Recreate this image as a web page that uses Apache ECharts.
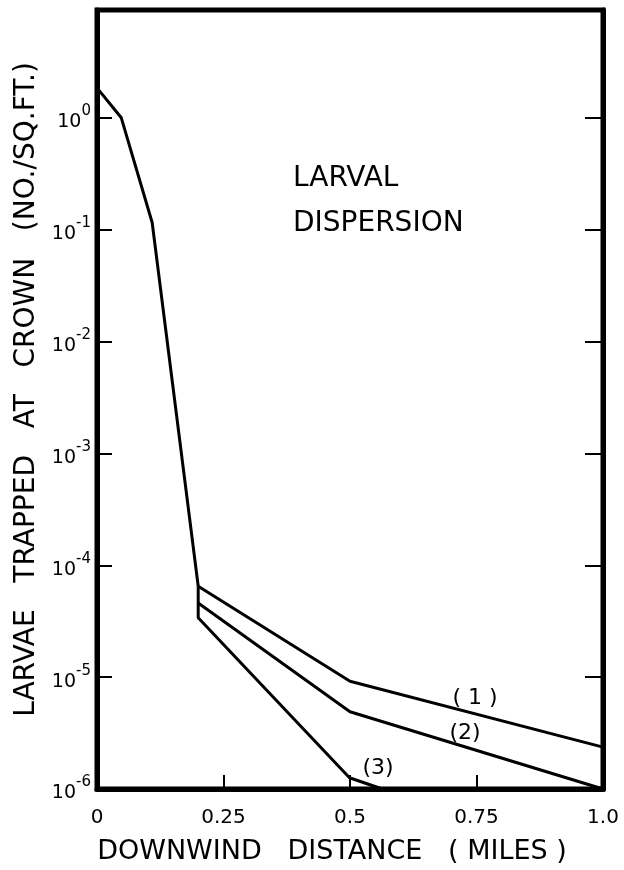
<!DOCTYPE html>
<html>
<head>
<meta charset="utf-8">
<script src="https://cdn.jsdelivr.net/npm/echarts@6/dist/echarts.min.js"></script>
<style>
  html, body { margin: 0; padding: 0; background: #fff; }
  #chart { width: 624px; height: 870px; }
</style>
</head>
<body>
<div id="chart"></div>
<script>
// values (x in miles, y in larvae / sq.ft.)
var mainX = [0, 0.048, 0.109, 0.2];
var mainY = [1.85, 1.0, 0.116, 6.5e-5];

var curve1X = [0.2, 0.5, 1.0];
var curve1Y = [6.5e-5, 9.2e-6, 2.37e-6];

var curve2X = [0.2, 0.5, 1.0];
var curve2Y = [4.6e-5, 4.9e-6, 1.0e-6];

var curve3X = [0.2, 0.2, 0.499, 0.564];
var curve3Y = [6.5e-5, 3.4e-5, 1.26e-6, 1.0e-6];

var xTickLabels = ['0', '0.25', '0.5', '0.75', '1.0'];
var curveNames = ['( 1 )', '(2)', '(3)'];

var font = 'DejaVu Sans';

function pairs(xs, ys) {
  var out = [];
  for (var i = 0; i < xs.length; i++) out.push([xs[i], ys[i]]);
  return out;
}

function lineSeries(name, xs, ys) {
  return {
    name: name,
    type: 'line',
    data: pairs(xs, ys),
    symbol: 'none',
    lineStyle: { color: '#000', width: 3 },
    z: 3
  };
}

var myChart = echarts.init(document.getElementById('chart'));

var option = {
  backgroundColor: '#fff',
  animation: false,
  grid: {
    left: 97, right: 21, top: 10, bottom: 79,
    show: true, borderColor: '#000', borderWidth: 5, backgroundColor: 'transparent'
  },
  xAxis: {
    type: 'value',
    min: 0, max: 1, interval: 0.25,
    name: 'DOWNWIND   DISTANCE   ( MILES )',
    nameLocation: 'middle',
    nameGap: 49,
    nameTextStyle: { fontFamily: font, fontSize: 27, color: '#000', padding: [0, 36, 0, 0] },
    axisLine: { lineStyle: { color: '#000', width: 5 } },
    axisTick: { inside: true, length: 14, lineStyle: { color: '#000', width: 2 } },
    axisLabel: {
      margin: 19, fontFamily: font, fontSize: 20, color: '#000',
      formatter: function (v, i) { return xTickLabels[i]; }
    },
    splitLine: { show: false }
  },
  yAxis: [
    {
      type: 'log',
      min: 1e-6, max: 9.2,
      position: 'left',
      name: 'LARVAE   TRAPPED   AT   CROWN   (NO./SQ.FT.)',
      nameLocation: 'middle',
      nameGap: 55,
      nameTextStyle: { fontFamily: font, fontSize: 28, color: '#000', padding: [0, 0, 0, 20] },
      axisLine: { lineStyle: { color: '#000', width: 5 } },
      axisTick: { inside: true, length: 15, lineStyle: { color: '#000', width: 2 } },
      axisLabel: {
        margin: 6, fontFamily: font, fontSize: 19, color: '#000',
        formatter: function (v) {
          var e = Math.log(v) / Math.LN10;
          if (Math.abs(e - Math.round(e)) > 1e-6) return '';
          return '{b|10}{s|' + Math.round(e) + '}';
        },
        rich: {
          b: { fontFamily: font, fontSize: 19, color: '#000', lineHeight: 28, verticalAlign: 'bottom' },
          s: { fontFamily: font, fontSize: 15, color: '#000', verticalAlign: 'top' }
        }
      },
      splitLine: { show: false }
    },
    {
      type: 'log',
      min: 1e-6, max: 9.2,
      position: 'right',
      axisLine: { lineStyle: { color: '#000', width: 5 } },
      axisTick: { inside: true, length: 18, lineStyle: { color: '#000', width: 2 } },
      axisLabel: { show: false },
      splitLine: { show: false }
    }
  ],
  series: [
    lineSeries('main', mainX, mainY),
    lineSeries(curveNames[0], curve1X, curve1Y),
    lineSeries(curveNames[1], curve2X, curve2Y),
    lineSeries(curveNames[2], curve3X, curve3Y)
  ],
  graphic: [
    { type: 'text', left: 293, top: 165, style: { text: 'LARVAL', font: '28px "DejaVu Sans"', fill: '#000' } },
    { type: 'text', left: 293, top: 210, style: { text: 'DISPERSION', font: '28px "DejaVu Sans"', fill: '#000' } },
    { type: 'text', x: 475, y: 698, style: { text: curveNames[0], font: '22px "DejaVu Sans"', fill: '#000', align: 'center', verticalAlign: 'middle' } },
    { type: 'text', x: 465, y: 733, style: { text: curveNames[1], font: '22px "DejaVu Sans"', fill: '#000', align: 'center', verticalAlign: 'middle' } },
    { type: 'text', x: 378, y: 768, style: { text: curveNames[2], font: '22px "DejaVu Sans"', fill: '#000', align: 'center', verticalAlign: 'middle' } }
  ]
};

myChart.setOption(option);
</script>
</body>
</html>
